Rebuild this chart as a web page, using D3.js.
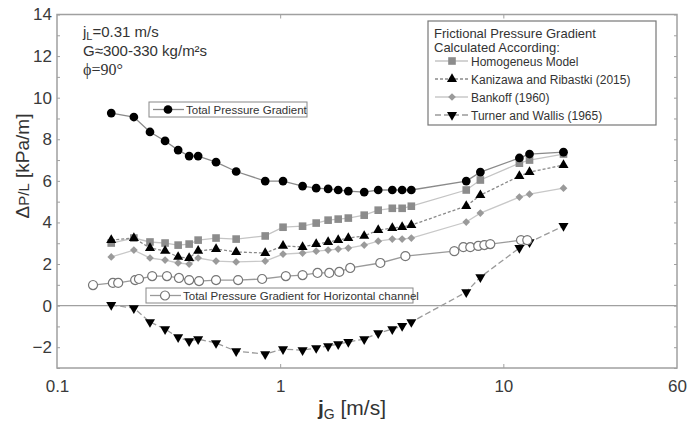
<!DOCTYPE html>
<html>
<head>
<meta charset="utf-8">
<script src="https://cdn.jsdelivr.net/npm/d3@7"></script>
<style>
  body { margin: 0; background: #fff; }
  svg { font-family: "Liberation Sans", Arial, sans-serif; }
</style>
</head>
<body>
<div id="chart"></div>
<script>
// superficial gas velocity jG [m/s], shared by the vertical channel series
var jG = [0.175, 0.221, 0.261, 0.305, 0.349, 0.391, 0.429, 0.516, 0.635, 0.857, 1.03, 1.26, 1.45,
          1.64, 1.82, 2.02, 2.38, 2.75, 3.18, 3.52, 3.87, 6.82, 7.89, 11.8, 13.1, 18.6];
var totalDP = [9.26, 9.07, 8.35, 7.92, 7.48, 7.19, 7.19, 6.90, 6.45, 5.99, 5.99, 5.75, 5.65,
               5.61, 5.56, 5.51, 5.46, 5.56, 5.56, 5.56, 5.56, 5.99, 6.42, 7.10, 7.29, 7.38];
var homogeneous = [3.01, 3.25, 3.06, 3.01, 2.91, 2.96, 3.15, 3.25, 3.20, 3.35, 3.77, 3.82, 3.97,
                   4.11, 4.16, 4.21, 4.35, 4.59, 4.68, 4.68, 4.78, 5.56, 6.04, 6.85, 7.00, 7.29];
var kanizawa = [3.15, 3.25, 2.77, 2.63, 2.34, 2.29, 2.63, 2.72, 2.58, 2.53, 2.87, 2.82, 2.96,
                3.06, 3.15, 3.25, 3.35, 3.63, 3.73, 3.78, 3.87, 4.79, 5.31, 6.23, 6.42, 6.76];
var bankoff = [2.34, 2.67, 2.29, 2.19, 2.05, 2.00, 2.29, 2.14, 2.10, 2.14, 2.48, 2.53, 2.62,
               2.67, 2.72, 2.77, 2.91, 3.10, 3.20, 3.20, 3.25, 4.02, 4.45, 5.22, 5.36, 5.65];
var turner = [0.03, -0.12, -0.79, -1.13, -1.52, -1.71, -1.61, -1.80, -2.19, -2.33, -2.09, -2.14, -2.04,
              -1.95, -1.85, -1.75, -1.61, -1.32, -1.13, -0.98, -0.79, 0.65, 1.37, 2.77, 3.05, 3.83];

// horizontal channel
var jGHor = [0.145, 0.178, 0.188, 0.224, 0.233, 0.267, 0.311, 0.352, 0.391, 0.433, 0.516, 0.648, 0.830,
             1.06, 1.26, 1.47, 1.66, 1.84, 2.06, 2.81, 3.64, 6.03, 6.62, 7.11, 7.72, 8.22, 8.74, 12.0, 12.8];
var totalHor = [0.99, 1.09, 1.09, 1.23, 1.28, 1.42, 1.42, 1.33, 1.23, 1.18, 1.23, 1.23, 1.28,
                1.42, 1.47, 1.57, 1.57, 1.62, 1.81, 2.05, 2.38, 2.62, 2.81, 2.81, 2.87, 2.91, 2.96, 3.15, 3.15];

var xTicks = [0.1, 1, 10, 60];
var yTicks = [-2, 0, 2, 4, 6, 8, 10, 12, 14];

var W = 688, H = 423;
var L = 57, R = 677, T = 14.5, B = 368;

var svg = d3.select("#chart").append("svg")
    .attr("width", W).attr("height", H);

var x = d3.scaleLog().domain([0.1, 60]).range([L, R]);
var y = d3.scaleLinear().domain([-3, 14]).range([B, T]);

// frame ticks, pointing inward on all four sides
var minorY = d3.range(-3, 15);
svg.append("g")
    .attr("transform", "translate(" + L + ",0)")
    .call(d3.axisRight(y).tickValues(minorY).tickSize(3).tickFormat(""))
    .call(g => g.select(".domain").remove())
    .selectAll("line").attr("stroke", "#a0a0a0");
svg.append("g")
    .attr("transform", "translate(" + R + ",0)")
    .call(d3.axisLeft(y).tickValues(minorY).tickSize(3).tickFormat(""))
    .call(g => g.select(".domain").remove())
    .selectAll("line").attr("stroke", "#a0a0a0");
svg.append("g")
    .attr("transform", "translate(0," + B + ")")
    .call(d3.axisTop(x).tickValues([1, 10]).tickSize(4).tickFormat(""))
    .call(g => g.select(".domain").remove())
    .selectAll("line").attr("stroke", "#a0a0a0");
svg.append("g")
    .attr("transform", "translate(0," + T + ")")
    .call(d3.axisBottom(x).tickValues([1, 10]).tickSize(4).tickFormat(""))
    .call(g => g.select(".domain").remove())
    .selectAll("line").attr("stroke", "#a0a0a0");

// tick labels
var xAxis = svg.append("g")
    .attr("transform", "translate(0," + B + ")")
    .call(d3.axisBottom(x).tickValues(xTicks).tickSize(0).tickPadding(12).tickFormat(d => String(d)));
xAxis.select(".domain").remove();
xAxis.selectAll("text").attr("font-size", 17).attr("fill", "#3a3a3a")
    .attr("font-family", "Liberation Sans, Arial, sans-serif");

var yAxis = svg.append("g")
    .attr("transform", "translate(" + L + ",0)")
    .call(d3.axisLeft(y).tickValues(yTicks).tickSize(0).tickPadding(5));
yAxis.select(".domain").remove();
yAxis.selectAll("text").attr("font-size", 17).attr("fill", "#3a3a3a")
    .attr("font-family", "Liberation Sans, Arial, sans-serif");

// zero line
svg.append("line")
    .attr("x1", L).attr("x2", R)
    .attr("y1", y(0)).attr("y2", y(0))
    .attr("stroke", "#a0a0a0").attr("stroke-width", 1.2);

// plot frame
svg.append("rect")
    .attr("x", L).attr("y", T)
    .attr("width", R - L).attr("height", B - T)
    .attr("fill", "none").attr("stroke", "#a0a0a0").attr("stroke-width", 1.5);

var series = [
  { xs: jG, ys: homogeneous, line: "#c4c4c4", dash: null, sym: d3.symbolSquare, size: 58, rot: 0, fill: "#8c8c8c", stroke: "none" },
  { xs: jG, ys: bankoff, line: "#c8c8c8", dash: null, sym: d3.symbolSquare, size: 30, rot: 45, fill: "#9a9a9a", stroke: "none" },
  { xs: jG, ys: kanizawa, line: "#8a8a8a", dash: "3,2", sym: d3.symbolTriangle, size: 44, rot: 0, fill: "#000", stroke: "none" },
  { xs: jG, ys: turner, line: "#9a9a9a", dash: "6,3", sym: d3.symbolTriangle, size: 44, rot: 180, fill: "#000", stroke: "none" },
  { xs: jGHor, ys: totalHor, line: "#9a9a9a", dash: null, sym: d3.symbolCircle, size: 64, rot: 0, fill: "#fff", stroke: "#777" },
  { xs: jG, ys: totalDP, line: "#8a8a8a", dash: null, sym: d3.symbolCircle, size: 60, rot: 0, fill: "#000", stroke: "none" }
];

var line = d3.line().x(d => x(d[0])).y(d => y(d[1]));

series.forEach(function (s) {
    var pts = s.xs.map((v, i) => [v, s.ys[i]]);
    svg.append("path")
        .datum(pts)
        .attr("d", line)
        .attr("fill", "none")
        .attr("stroke", s.line)
        .attr("stroke-width", 1.3)
        .attr("stroke-dasharray", s.dash);
    svg.append("g").selectAll("path")
        .data(pts).enter().append("path")
        .attr("d", d3.symbol().type(s.sym).size(s.size))
        .attr("transform", d => "translate(" + x(d[0]) + "," + y(d[1]) + ") rotate(" + s.rot + ")")
        .attr("fill", s.fill)
        .attr("stroke", s.stroke)
        .attr("stroke-width", 1.2);
});

// annotation, top left
var note = svg.append("g").attr("fill", "#333");
var t1 = note.append("text").attr("x", 83).attr("y", 37).attr("font-size", 15);
t1.append("tspan").text("j");
t1.append("tspan").attr("font-size", 11).attr("dy", 3).text("L");
t1.append("tspan").attr("dy", -3).text("=0.31 m/s");
note.append("text").attr("x", 83).attr("y", 56).attr("font-size", 15).text("G≈300-330 kg/m²s");
note.append("text").attr("x", 83).attr("y", 75).attr("font-size", 16)
    .style("font-family", "'Liberation Serif', 'DejaVu Serif', serif").text("ϕ=90°");

// inline legend boxes
function inlineKey(bx, by, bw, s, label) {
    var g = svg.append("g");
    g.append("rect").attr("x", bx).attr("y", by).attr("width", bw).attr("height", 15)
        .attr("fill", "#fff").attr("stroke", "#888").attr("stroke-width", 1);
    g.append("line").attr("x1", bx + 4).attr("x2", bx + 35)
        .attr("y1", by + 7.5).attr("y2", by + 7.5)
        .attr("stroke", s.line).attr("stroke-width", 1.3);
    g.append("path").attr("d", d3.symbol().type(s.sym).size(s.size))
        .attr("transform", "translate(" + (bx + 19) + "," + (by + 7.5) + ")")
        .attr("fill", s.fill).attr("stroke", s.stroke).attr("stroke-width", 1.2);
    g.append("text").attr("x", bx + 37).attr("y", by + 11.5)
        .attr("font-size", 11.5).attr("fill", "#333").text(label);
}
inlineKey(149, 102, 158, series[5], "Total Pressure Gradient");
inlineKey(146, 288, 267, series[4], "Total Pressure Gradient for Horizontal channel");

// frictional legend box
var lg = svg.append("g");
lg.append("rect").attr("x", 428).attr("y", 21).attr("width", 228).attr("height", 104)
    .attr("fill", "#fff").attr("stroke", "#777").attr("stroke-width", 1.2);
lg.append("text").attr("x", 434).attr("y", 38).attr("font-size", 13).attr("fill", "#333")
    .text("Frictional Pressure Gradient");
lg.append("text").attr("x", 434).attr("y", 52).attr("font-size", 13).attr("fill", "#333")
    .text("Calculated According:");
var keyNames = ["Homogeneus Model", "Kanizawa and Ribastki (2015)", "Bankoff (1960)", "Turner and Wallis (1965)"];
var keySeries = [series[0], series[2], series[1], series[3]];
keyNames.forEach(function (name, i) {
    var s = keySeries[i], cy = 61 + i * 18;
    lg.append("line").attr("x1", 435).attr("x2", 468).attr("y1", cy).attr("y2", cy)
        .attr("stroke", s.line).attr("stroke-width", 1.3).attr("stroke-dasharray", s.dash);
    lg.append("path").attr("d", d3.symbol().type(s.sym).size(s.size))
        .attr("transform", "translate(452," + cy + ") rotate(" + s.rot + ")")
        .attr("fill", s.fill);
    lg.append("text").attr("x", 471).attr("y", cy + 4.5).attr("font-size", 12).attr("fill", "#333")
        .text(name);
});

// axis titles
var yl = svg.append("text")
    .attr("transform", "translate(29,166) rotate(-90)")
    .attr("text-anchor", "middle").attr("font-size", 19).attr("fill", "#333");
yl.append("tspan").text("Δ");
yl.append("tspan").attr("font-size", 15).text("P/L");
yl.append("tspan").text(" [kPa/m]");

var xl = svg.append("text")
    .attr("x", 352).attr("y", 415)
    .attr("text-anchor", "middle").attr("font-size", 21).attr("fill", "#333");
xl.append("tspan").attr("font-weight", "bold").text("j");
xl.append("tspan").attr("font-size", 14).attr("dy", 4).text("G");
xl.append("tspan").attr("dy", -4).text(" [m/s]");
</script>
</body>
</html>
